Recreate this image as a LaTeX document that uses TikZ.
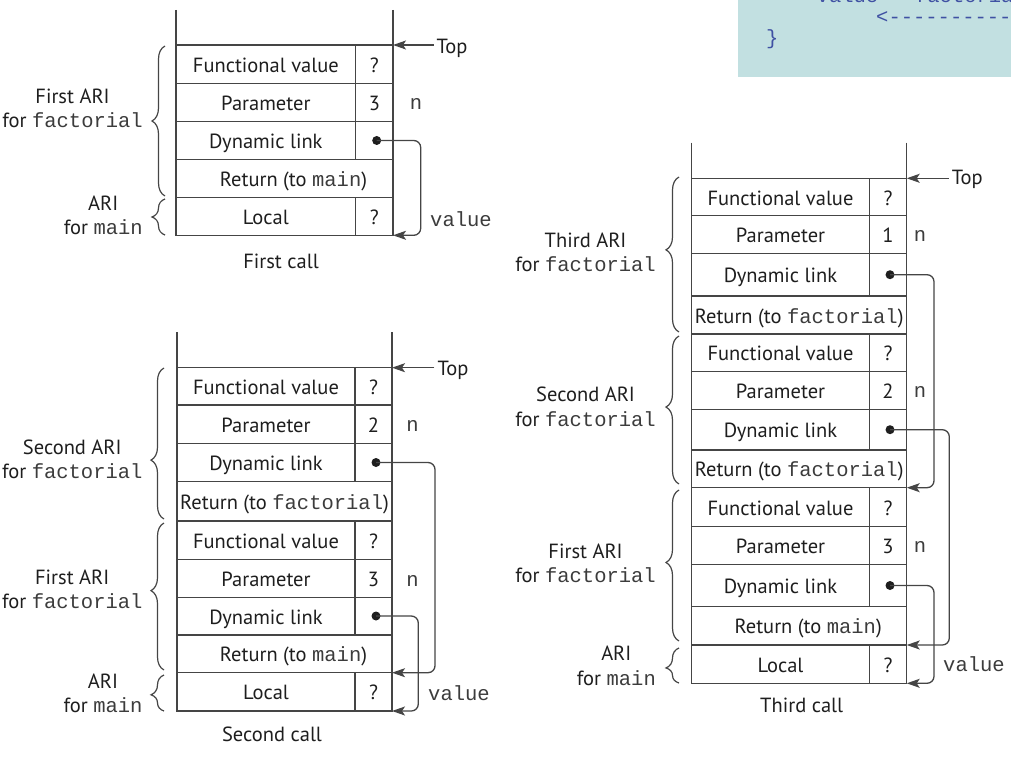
\documentclass[tikz,border=0pt]{standalone}
\usepackage{fontspec}
\setmainfont{PT Sans}
\setmonofont{Liberation Mono}
\usetikzlibrary{arrows.meta,decorations.pathreplacing,calc}

\definecolor{ink}{HTML}{1E1E1E}
\definecolor{monoink}{HTML}{3C3C3C}
\definecolor{rule}{HTML}{454545}
\definecolor{codebg}{HTML}{C2E0E1}
\definecolor{codeink}{HTML}{3F51A3}

\newcommand\mono[1]{{\ttfamily\color{monoink}#1}}

% a cell row with a value column: name, left, divider, right, top, bottom, label, value
\newcommand\vrow[8]{%
  \draw[stk] (#2,#5) rectangle (#4,#6);
  \draw[stk] (#3,#5) -- (#3,#6);
  \node[txt] (#1) at ({(#2+#3)/2},{(#5+#6)/2+8}) {#7};
  \node[txt] (#1v) at ({(#3+#4)/2},{(#5+#6)/2+8}) {#8};
}
% a full-width cell row: name, left, right, top, bottom, x shift, label
\newcommand\wrow[7]{%
  \draw[stk] (#2,#4) rectangle (#3,#5);
  \node[txt] (#1) at ({(#2+#3)/2+#6},{(#4+#5)/2+8}) {#7};
}

\tikzset{
  stk/.style={draw=rule, line width=1.3pt},
  txt/.style={inner sep=0pt, text=ink, font=\fontsize{20.5}{24.4}\selectfont, anchor=base},
  % the base anchor of a two-line label sits on its second line
  side/.style={txt, align=center, anchor=base east},
  dot/.style={circle, fill=ink, inner sep=0pt, minimum size=9pt},
  tip/.style={-{Stealth[length=13pt,width=9pt,inset=3pt]}},
  link/.style={draw=rule, line width=1.3pt, rounded corners=7pt, tip},
  ptr/.style={draw=rule, line width=1.3pt, tip},
  brc/.style={decorate, decoration={brace, amplitude=13pt, aspect=#1}, draw=rule, line width=1.2pt},
  brc/.default=0.5,
  code/.style={inner sep=0pt, text=codeink, font=\fontsize{20.5}{24.4}\selectfont\ttfamily, anchor=base west},
}

\begin{document}
\begin{tikzpicture}[x=1pt,y=-1pt]
\useasboundingbox (0,0) rectangle (1011,762);

% ---------- code excerpt ----------
\begin{scope}
  \clip (738,0) rectangle (1011,77.5);
  \fill[codebg] (738,0) rectangle (1011,77.5);
  \node[code] (cl1) at (816.5,2.7) {value = factorial};
  \node[code] (cl2) at (876,24) {<-----------};
  \node[code] (cl3) at (766,45) {\}};
\end{scope}

% ---------- first call ----------
\draw[stk] (176,10) -- (176,235.3);
\draw[stk] (393,10) -- (393,235.3);
\vrow{a1}{176}{355.7}{393}{45}{83.3}{Functional value}{?}
\vrow{a2}{176}{355.7}{393}{83.3}{121.5}{Parameter}{3}
\vrow{a3}{176}{355.7}{393}{121.5}{159.5}{Dynamic link}{}
\wrow{a4}{176}{393}{159.5}{197.3}{9}{Return (to \mono{main})}
\vrow{a5}{176}{355.7}{393}{197.3}{235.3}{Local}{?}
\node[txt] (an1) at (416,110) {\mono{n}};
\node[dot] (ad1) at (376.7,140.5) {};
\coordinate (ak1) at (420.7,0);
\coordinate (at1) at (393,235.3);
\draw[link] (ad1.center) -- (ad1 -| ak1) -- (at1 -| ak1) -- (at1);
\node[txt, anchor=base west] (aval) at (430,226.7) {\mono{value}};
\coordinate (atop) at (393,45);
\node[txt, anchor=base west] (atoplbl) at (436.5,53.3) {Top};
\draw[ptr, shorten <=3pt] (atoplbl.west |- atop) -- (atop);
\node[txt] (acap) at (281,268.3) {First call};
\draw[brc=0.5] (165,196) -- (165,46);
\draw[brc=0.5] (165,235) -- (165,199);
\node[side] (al1) at (143,127.7) {First ARI\\for \mono{factorial}};
\node[side] (al2) at (143,234.4) {ARI\\for \mono{main}};

% ---------- second call ----------
\draw[stk] (177,332) -- (177,711);
\draw[stk] (392,332) -- (392,711);
\vrow{b1}{177}{355}{392}{367.7}{405}{Functional value}{?}
\vrow{b2}{177}{355}{392}{405}{443.3}{Parameter}{2}
\vrow{b3}{177}{355}{392}{443.3}{481.7}{Dynamic link}{}
\wrow{b4}{177}{392}{481.7}{521}{0}{Return (to \mono{factorial})}
\vrow{b5}{177}{355}{392}{521}{559.3}{Functional value}{?}
\vrow{b6}{177}{355}{392}{559.3}{597.3}{Parameter}{3}
\vrow{b7}{177}{355}{392}{597.3}{635}{Dynamic link}{}
\wrow{b8}{177}{392}{635}{672.7}{9}{Return (to \mono{main})}
\vrow{b9}{177}{355}{392}{672.7}{711}{Local}{?}
\node[txt] (bn1) at (412.5,431.7) {\mono{n}};
\node[txt] (bn2) at (412.5,586) {\mono{n}};
\node[dot] (bd1) at (376,462.5) {};
\node[dot] (bd2) at (376,616) {};
\coordinate (bk1) at (435,0);
\coordinate (bk2) at (418.3,0);
\coordinate (bt1) at (392,672.7);
\coordinate (bt2) at (392,711);
\draw[link] (bd1.center) -- (bd1 -| bk1) -- (bt1 -| bk1) -- (bt1);
\draw[link] (bd2.center) -- (bd2 -| bk2) -- (bt2 -| bk2) -- (bt2);
\node[txt, anchor=base west] (bval) at (428,700) {\mono{value}};
\coordinate (btop) at (392,367.7);
\node[txt, anchor=base west] (btoplbl) at (437.3,375) {Top};
\draw[ptr, shorten <=3pt] (btoplbl.west |- btop) -- (btop);
\node[txt] (bcap) at (272,741.7) {Second call};
\draw[brc=0.39] (164,519) -- (164,368);
\draw[brc=0.54] (164,670) -- (164,523);
\draw[brc=0.45] (164,711) -- (164,675);
\node[side] (bl1) at (142.7,478.4) {Second ARI\\for \mono{factorial}};
\node[side] (bl2) at (142.7,608.7) {First ARI\\for \mono{factorial}};
\node[side] (bl3) at (142.7,712.7) {ARI\\for \mono{main}};

% ---------- third call ----------
\draw[stk] (691.7,142.7) -- (691.7,683.3);
\draw[stk] (906.7,142.7) -- (906.7,683.3);
\vrow{c1}{691.7}{869.3}{906.7}{178.3}{215.7}{Functional value}{?}
\vrow{c2}{691.7}{869.3}{906.7}{215.7}{253.3}{Parameter}{1}
\vrow{c3}{691.7}{869.3}{906.7}{253.3}{296}{Dynamic link}{}
\wrow{c4}{691.7}{906.7}{296}{334}{0}{Return (to \mono{factorial})}
\vrow{c5}{691.7}{869.3}{906.7}{334}{371.7}{Functional value}{?}
\vrow{c6}{691.7}{869.3}{906.7}{371.7}{409.3}{Parameter}{2}
\vrow{c7}{691.7}{869.3}{906.7}{409.3}{450}{Dynamic link}{}
\wrow{c8}{691.7}{906.7}{450}{487.7}{0}{Return (to \mono{factorial})}
\vrow{c9}{691.7}{869.3}{906.7}{487.7}{526.7}{Functional value}{?}
\vrow{c10}{691.7}{869.3}{906.7}{526.7}{564.3}{Parameter}{3}
\vrow{c11}{691.7}{869.3}{906.7}{564.3}{606.7}{Dynamic link}{}
\wrow{c12}{691.7}{906.7}{606.7}{645}{9}{Return (to \mono{main})}
\vrow{c13}{691.7}{869.3}{906.7}{645}{683.3}{Local}{?}
\node[txt] (cn1) at (920,241.7) {\mono{n}};
\node[txt] (cn2) at (920,397.3) {\mono{n}};
\node[txt] (cn3) at (920,552.7) {\mono{n}};
\node[dot] (cd1) at (890,274.7) {};
\node[dot] (cd2) at (890,429.7) {};
\node[dot] (cd3) at (890,585.5) {};
\coordinate (ck1) at (934,0);
\coordinate (ck2) at (949.3,0);
\coordinate (ct1) at (906.7,487.7);
\coordinate (ct2) at (906.7,645);
\coordinate (ct3) at (906.7,683.3);
\draw[link] (cd1.center) -- (cd1 -| ck1) -- (ct1 -| ck1) -- (ct1);
\draw[link] (cd2.center) -- (cd2 -| ck2) -- (ct2 -| ck2) -- (ct2);
\draw[link] (cd3.center) -- (cd3 -| ck1) -- (ct3 -| ck1) -- (ct3);
\node[txt, anchor=base west] (cval) at (943,671.7) {\mono{value}};
\coordinate (ctop) at (906.7,178.3);
\node[txt, anchor=base west] (ctoplbl) at (951.7,185) {Top};
\draw[ptr, shorten <=3pt] (ctoplbl.west |- ctop) -- (ctop);
\node[txt] (ccap) at (801.7,712.7) {Third call};
\draw[brc=0.53] (679,332) -- (679,177);
\draw[brc=0.52] (679,484) -- (679,336);
\draw[brc=0.52] (679,641) -- (679,490);
\draw[brc=0.43] (679,683) -- (679,648);
\node[side] (cl1) at (656,271.7) {Third ARI\\for \mono{factorial}};
\node[side] (cl2) at (656,426.1) {Second ARI\\for \mono{factorial}};
\node[side] (cl3) at (656,582.7) {First ARI\\for \mono{factorial}};
\node[side] (cl4) at (656,685.1) {ARI\\for \mono{main}};
\end{tikzpicture}
\end{document}
